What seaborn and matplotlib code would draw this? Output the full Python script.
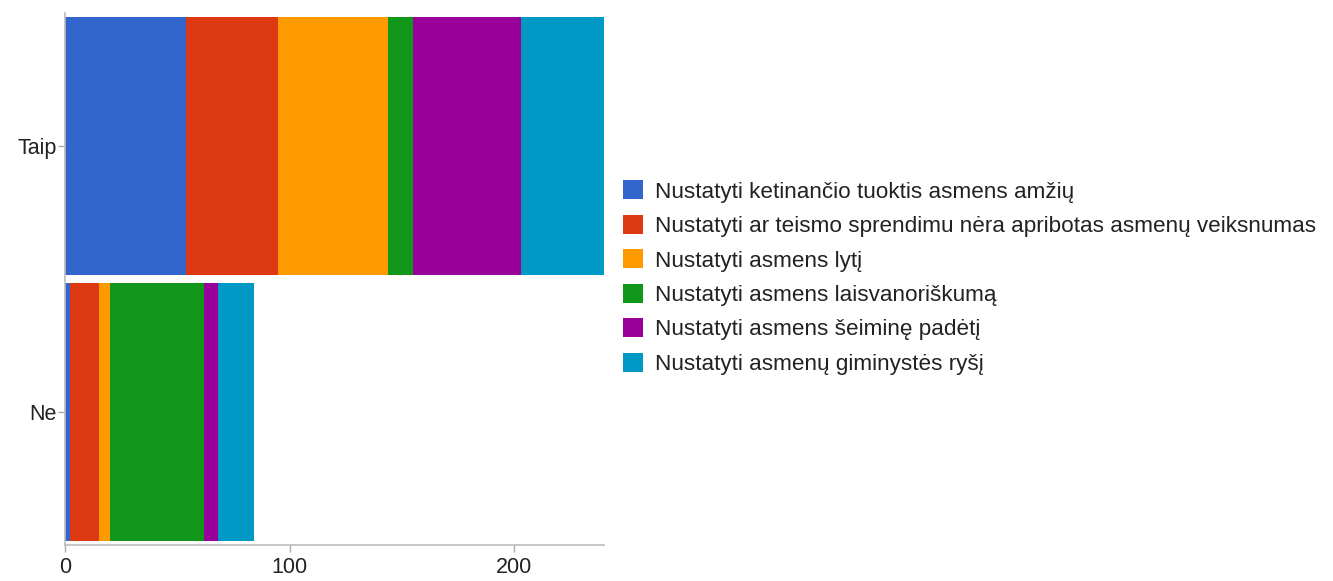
import seaborn as sns
import matplotlib.pyplot as plt
import numpy as np
import pandas as pd
from matplotlib.patches import Patch

answers = ["Taip", "Ne"]
categories = [
    "Nustatyti ketinančio tuoktis asmens amžių",
    "Nustatyti ar teismo sprendimu nėra apribotas asmenų veiksnumas",
    "Nustatyti asmens lytį",
    "Nustatyti asmens laisvanoriškumą",
    "Nustatyti asmens šeiminę padėtį",
    "Nustatyti asmenų giminystės ryšį",
]
taip_counts = [54, 41, 49, 11, 48, 37]
ne_counts = [2, 13, 5, 42, 6, 16]
colors = ["#3366cc", "#dc3912", "#ff9900", "#109618", "#990099", "#0099c6"]

sns.set_style("white")
plt.rcParams["font.family"] = ["Liberation Sans", "DejaVu Sans"]

fig = plt.figure(figsize=(13.33, 5.81), dpi=100)
ax = fig.add_axes([0.0488, 0.062, 0.4044, 0.9157])

# cumulative totals, drawn back to front so each segment shows
cum = np.cumsum(np.array([taip_counts, ne_counts]), axis=1)
for k in range(len(categories) - 1, -1, -1):
    df = pd.DataFrame({"answer": answers, "value": cum[:, k]})
    sns.barplot(data=df, x="value", y="answer", order=answers, color=colors[k],
                saturation=1, width=0.97, orient="h", ax=ax, linewidth=0)

ax.set_xlim(0, 240)
ax.set_ylim(1.5, -0.5)
ax.set_xticks([0, 100, 200])
ax.set_xlabel("")
ax.set_ylabel("")
ax.tick_params(axis="both", labelsize=15.5, labelcolor="#222222", length=5,
               width=1, color="#aaaaaa", bottom=True, left=True)
ax.tick_params(axis="x", pad=4)
ax.tick_params(axis="y", pad=1)
for side in ["top", "right"]:
    ax.spines[side].set_visible(False)
for side in ["left", "bottom"]:
    ax.spines[side].set_color("#bbbbbb")
    ax.spines[side].set_linewidth(1.2)

handles = [Patch(facecolor=c, edgecolor="none") for c in colors]
fig.legend(handles, categories, loc="center left", bbox_to_anchor=(0.4605, 0.522),
           frameon=False, fontsize=16.2, handlelength=0.9, handleheight=0.9,
           handletextpad=0.55, labelspacing=0.55, borderaxespad=0,
           labelcolor="#222222")

plt.savefig("out.png", dpi=100)
plt.close()
